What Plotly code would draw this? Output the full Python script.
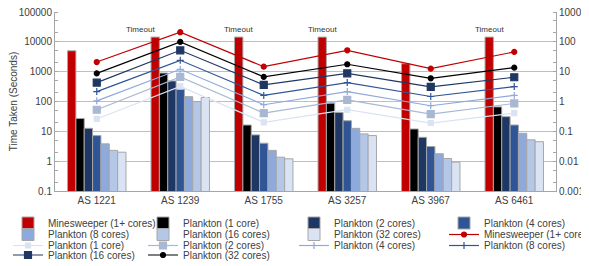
import plotly.graph_objects as go
import math

categories = ["AS 1221", "AS 1239", "AS 1755", "AS 3257", "AS 3967", "AS 6461"]

# Bar series (left axis, seconds)
bar_names = ["Minesweeper (1+ cores)", "Plankton (1 core)", "Plankton (2 cores)",
             "Plankton (4 cores)", "Plankton (8 cores)", "Plankton (16 cores)",
             "Plankton (32 cores)"]
bar_minesweeper = [5000, 14400, 14400, 14400, 1850, 14400]
bar_p1 = [27, 900, 16.3, 88, 12, 66]
bar_p2 = [12.6, 490, 7.6, 43, 6.3, 31]
bar_p4 = [7.2, 259, 4.0, 22.7, 3.1, 16.3]
bar_p8 = [3.8, 145, 2.3, 12.6, 1.77, 8.6]
bar_p16 = [2.3, 100, 1.36, 8.2, 1.23, 5.2]
bar_p32 = [2.0, 136, 1.2, 7.2, 0.93, 4.5]
timeout_value = 14400

# Line series (right axis)
line_names = ["Minesweeper (1+ cores)", "Plankton (1 core)", "Plankton (2 cores)",
              "Plankton (4 cores)", "Plankton (8 cores)", "Plankton (16 cores)",
              "Plankton (32 cores)"]
line_minesweeper = [21, 210, 14.7, 52, 12.6, 46]
line_p1 = [0.26, 3.2, 0.2, 0.53, 0.19, 0.41]
line_p2 = [0.53, 6.7, 0.41, 1.14, 0.38, 0.86]
line_p4 = [1.05, 12, 0.78, 2.15, 0.72, 1.6]
line_p8 = [2.15, 24, 1.6, 4.3, 1.47, 3.16]
line_p16 = [4.3, 52, 3.6, 8.8, 3.1, 6.5]
line_p32 = [8.8, 100, 6.7, 17.7, 6.0, 13.6]

left_ticks = [0.1, 1, 10, 100, 1000, 10000, 100000]
left_ticktext = ["0.1", "1", "10", "100", "1000", "10000", "100000"]
right_ticks = [0.001, 0.01, 0.1, 1, 10, 100, 1000]
right_ticktext = ["0.001", "0.01", "0.1", "1", "10", "100", "1000"]

bar_colors = ["#C00000", "#000000", "#1F3763", "#2F5597", "#8EA9DB", "#B4C7E7", "#DAE3F3"]
line_colors = ["#C00000", "#DAE3F3", "#A9B8D2", "#8EA9DB", "#2F5597", "#1F3763", "#000000"]
line_symbols = ["circle", "square", "square", "cross-thin", "cross-thin", "square", "circle"]
line_sizes = [5, 5, 7, 5, 5, 7, 5]

FONT = "Liberation Sans, Arial, sans-serif"

fig = go.Figure()

bar_series = [bar_minesweeper, bar_p1, bar_p2, bar_p4, bar_p8, bar_p16, bar_p32]
line_series = [line_minesweeper, line_p1, line_p2, line_p4, line_p8, line_p16, line_p32]

# plot area inside the figure div (the page adds an 8px body offset)
M_L, M_T, PLOT_W, PLOT_H = 47, 4, 501, 179
M_R = 589 - M_L - PLOT_W
M_B = 266 - M_T - PLOT_H

def legx(px):
    return (px - M_L) / PLOT_W

def legy(px):
    return 1 - (px - M_T) / PLOT_H

# legend grid: 4 columns, entries row-major (7 bars then 7 lines); one legend per entry
col_lefts = [0, 135, 286, 436]
row_tops = [200.5, 212, 223, 232.5]
leg_common = dict(orientation="h", bgcolor="rgba(0,0,0,0)",
                  font=dict(size=10, color="#404040", family=FONT),
                  itemwidth=30, xanchor="left", yanchor="top",
                  traceorder="normal", tracegroupgap=0)
entries = [("bar", i) for i in range(7)] + [("line", i) for i in range(7)]
legend_ids = {}
legends = {}
for k, e in enumerate(entries):
    row, col = divmod(k, 4)
    lid = "legend" if k == 0 else "legend%d" % (k + 1)
    legend_ids[e] = lid
    legends[lid] = dict(**leg_common, x=legx(col_lefts[col]), y=legy(row_tops[row]))

for i, (name, vals, col) in enumerate(zip(bar_names, bar_series, bar_colors)):
    fig.add_trace(go.Bar(x=categories, y=vals, name=name, legend=legend_ids[("bar", i)],
                         marker=dict(color=col, line=dict(color="#A6A6A6", width=1))))

for i, (name, vals, col, sym, sz) in enumerate(zip(line_names, line_series, line_colors,
                                                   line_symbols, line_sizes)):
    fig.add_trace(go.Scatter(x=categories, y=vals, name=name, yaxis="y2",
                             legend=legend_ids[("line", i)],
                             mode="lines+markers",
                             line=dict(color=col, width=1.2),
                             marker=dict(color=col, symbol=sym, size=sz,
                                         line=dict(color=col, width=1.2))))

# Timeout labels
ngroups = len(bar_series)
bargap = 0.3
bw = (1 - bargap) / ngroups
first_offset = -(1 - bargap) / 2 + bw / 2
for i, (c, v) in enumerate(zip(categories, bar_minesweeper)):
    if v >= timeout_value:
        fig.add_annotation(x=i + first_offset, y=math.log10(v), xref="x", yref="y",
                           text="Timeout", showarrow=False, yanchor="bottom", yshift=1,
                           xshift=-15 if c == "AS 1239" else 0,
                           font=dict(size=8, color="#333333", family=FONT))

axis_common = dict(type="log", ticks="", showline=True, automargin=False,
                   ticklabeloverflow="allow",
                   linecolor="#A6A6A6", linewidth=1,
                   tickfont=dict(size=10, color="#404040", family=FONT),
                   minor=dict(ticks="inside", ticklen=3, tickcolor="#A6A6A6", showgrid=False))

fig.update_layout(
    width=589, height=266,
    margin=dict(l=M_L, r=M_R, t=M_T, b=M_B, autoexpand=False),
    paper_bgcolor="white", plot_bgcolor="white",
    barmode="group", bargap=bargap, bargroupgap=0,
    font=dict(family=FONT, size=10, color="#404040"),
    xaxis=dict(type="category", showgrid=False, ticks="", showline=True, linecolor="#A6A6A6",
               automargin=False, tickfont=dict(size=10, color="#404040", family=FONT)),
    yaxis=dict(**axis_common, range=[-1, 5], tickvals=left_ticks, ticktext=left_ticktext,
               showgrid=True, gridcolor="#BFBFBF", gridwidth=1,
               title=dict(text="Time Taken (Seconds)", font=dict(size=10, color="#404040", family=FONT),
                          standoff=6)),
    yaxis2=dict(**axis_common, range=[-3, 3], tickvals=right_ticks, ticktext=right_ticktext,
                showgrid=False, overlaying="y", side="right"),
    showlegend=True,
    **legends,
)

fig.write_html("out.html")
